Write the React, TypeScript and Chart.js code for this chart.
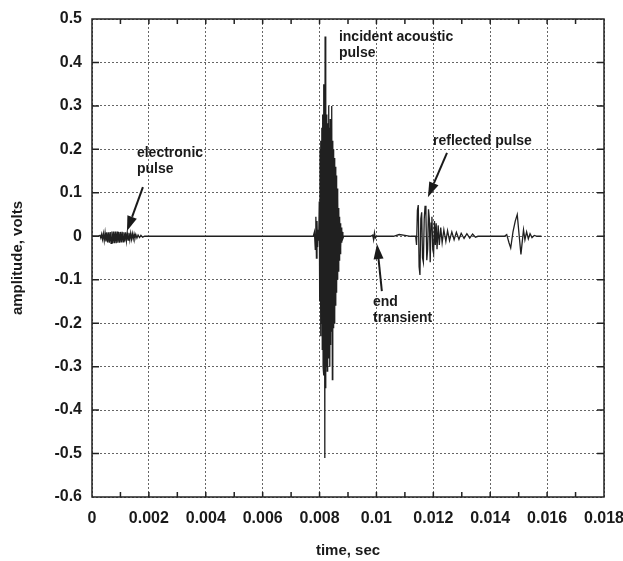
import React, { useEffect, useRef } from 'react';
import { Chart, registerables } from 'chart.js';

Chart.register(...registerables);

// ---- axis settings / tick labels ----
const X_MIN = 0;
const X_MAX = 0.018;
const X_STEP = 0.002;
const Y_MIN = -0.6;
const Y_MAX = 0.5;
const Y_STEP = 0.1;
const xMinorTicks = [0.001, 0.002, 0.003, 0.004, 0.005, 0.006, 0.007, 0.008, 0.009, 0.01, 0.011, 0.012, 0.013, 0.014, 0.015, 0.016, 0.017];
const yMajorTicks = [-0.5, -0.4, -0.3, -0.2, -0.1, 0, 0.1, 0.2, 0.3, 0.4];
const xTitle = 'time, sec';
const yTitle = 'amplitude, volts';

// ---- signal (time in ms, amplitude in volts) ----
const leadIn: [number, number][] = [[0, 0], [0.2, 0]];

const electronicPulse: [number, number][] = [
  [0.28, 0.002], [0.31, -0.004], [0.34, 0.005], [0.37, -0.007], [0.4, 0.006],
  [0.43, -0.01], [0.46, 0.008], [0.49, -0.012], [0.52, 0.009], [0.55, -0.014],
  [0.58, 0.009], [0.61, -0.015], [0.64, 0.01], [0.67, -0.016], [0.7, 0.011],
  [0.73, -0.016], [0.76, 0.011], [0.79, -0.016], [0.82, 0.011], [0.85, -0.016],
  [0.88, 0.011], [0.91, -0.015], [0.94, 0.01], [0.97, -0.015], [1.0, 0.01],
  [1.03, -0.014], [1.06, 0.01], [1.09, -0.013], [1.12, 0.009], [1.15, -0.012],
  [1.18, 0.009], [1.21, -0.011], [1.24, 0.008], [1.27, -0.009], [1.3, 0.008],
  [1.33, -0.008], [1.36, 0.007], [1.39, -0.007], [1.42, 0.006], [1.45, -0.006],
  [1.48, 0.005], [1.51, -0.005], [1.54, 0.004], [1.58, -0.004], [1.62, 0.003],
  [1.67, -0.003], [1.72, 0.002], [1.78, -0.002], [1.85, 0],
];

const incidentPulse: [number, number][] = [
  [7.78, 0], [7.82, 0.01], [7.85, -0.03], [7.87, 0.045], [7.89, -0.05],
  [7.91, 0.035], [7.93, -0.025], [7.95, 0.015], [7.97, -0.01],
  [7.99, 0.08], [8.005, -0.15], [8.02, 0.2], [8.035, -0.23], [8.05, 0.22],
  [8.065, -0.2], [8.08, 0.25], [8.095, -0.26], [8.11, 0.28], [8.125, -0.3],
  [8.14, 0.35], [8.155, -0.32], [8.17, 0.3], [8.185, -0.51], [8.195, 0.46],
  [8.21, -0.35], [8.225, 0.32], [8.24, -0.3], [8.255, 0.28], [8.27, -0.31],
  [8.285, 0.26], [8.3, -0.28], [8.315, 0.3], [8.33, -0.27], [8.345, 0.25],
  [8.36, -0.3], [8.375, 0.27], [8.39, -0.25], [8.405, 0.24], [8.42, -0.22],
  [8.435, 0.3], [8.45, -0.33], [8.465, 0.22], [8.48, -0.21], [8.495, 0.2],
  [8.51, -0.2], [8.525, 0.18], [8.54, -0.18], [8.555, 0.16], [8.57, -0.16],
  [8.585, 0.14], [8.6, -0.13], [8.615, 0.11], [8.63, -0.1], [8.645, 0.09],
  [8.66, -0.08], [8.675, 0.065], [8.69, -0.055], [8.705, 0.045], [8.72, -0.04],
  [8.735, 0.03], [8.75, -0.025], [8.765, 0.02], [8.78, -0.015], [8.8, 0.01],
  [8.82, -0.005], [8.85, 0],
];

const endTransient: [number, number][] = [
  [9.8, 0], [9.87, 0.003], [9.9, -0.008], [9.93, 0.008], [9.96, -0.004], [10.0, 0],
  [10.6, 0], [10.8, 0.004], [11.0, 0.002], [11.2, 0],
];

const reflectedPulse: [number, number][] = [
  [11.38, 0], [11.41, -0.02], [11.44, 0.06], [11.47, 0.072], [11.5, -0.07],
  [11.53, -0.089], [11.56, 0.04], [11.59, 0.055], [11.62, -0.05], [11.65, -0.06],
  [11.68, 0.04], [11.71, 0.07], [11.74, 0.05], [11.77, -0.055], [11.8, -0.03],
  [11.83, 0.062], [11.86, 0.04], [11.89, -0.06], [11.92, 0.03], [11.95, 0.045],
  [11.98, -0.03], [12.01, -0.04], [12.04, 0.035], [12.07, -0.02], [12.1, 0.03],
  [12.13, -0.03], [12.17, 0.025], [12.21, -0.02], [12.26, 0.02], [12.31, -0.015],
  [12.37, 0.015], [12.44, -0.012], [12.5, 0.013], [12.57, -0.01], [12.65, 0.01],
  [12.73, -0.008], [12.81, 0.009], [12.9, -0.007], [12.98, 0.007], [13.08, -0.005],
  [13.18, 0.006], [13.28, -0.004], [13.38, 0.005], [13.48, -0.002], [13.57, 0],
];

const echoPulse: [number, number][] = [
  [14.5, 0], [14.58, 0.004], [14.66, -0.015], [14.72, -0.027], [14.8, 0.01],
  [14.88, 0.035], [14.95, 0.05], [15.02, 0.0], [15.08, -0.042], [15.13, -0.01],
  [15.17, 0.015], [15.22, -0.008], [15.28, 0.01], [15.34, -0.006], [15.4, 0.006],
  [15.47, -0.003], [15.55, 0.002], [15.65, 0], [15.8, 0],
];

// ---- annotations (data coordinates: ms, volts) ----
const labels = [
  { lines: ['electronic', 'pulse'], t: 1.58, v: 0.1825 },
  { lines: ['incident acoustic', 'pulse'], t: 8.68, v: 0.449 },
  { lines: ['reflected pulse'], t: 11.99, v: 0.21 },
  { lines: ['end', 'transient'], t: 9.88, v: -0.16 },
];
const arrows = [
  { from: [1.79, 0.113], to: [1.23, 0.012] },
  { from: [12.48, 0.192], to: [11.81, 0.09] },
  { from: [10.19, -0.126], to: [10.02, -0.018] },
];

const FONT = '"Liberation Sans", Arial, Helvetica, sans-serif';
const INK = '#1a1a1a';

const signal = [...leadIn, ...electronicPulse, ...incidentPulse, ...endTransient, ...reflectedPulse, ...echoPulse]
  .map(([t, v]) => ({ x: t / 1000, y: v }));

const decorPlugin = {
  id: 'decor',
  afterDraw(chart: any) {
    const { ctx, chartArea: a, scales } = chart;
    const xs = scales.x;
    const ys = scales.y;
    ctx.save();
    // frame
    ctx.strokeStyle = '#222';
    ctx.lineWidth = 1.5;
    ctx.setLineDash([]);
    ctx.strokeRect(a.left, a.top, a.right - a.left, a.bottom - a.top);
    // inward tick marks
    ctx.beginPath();
    xMinorTicks.forEach((t) => {
      const px = xs.getPixelForValue(t);
      ctx.moveTo(px, a.bottom); ctx.lineTo(px, a.bottom - 5);
      ctx.moveTo(px, a.top); ctx.lineTo(px, a.top + 5);
    });
    yMajorTicks.forEach((v) => {
      const py = ys.getPixelForValue(v);
      ctx.moveTo(a.left, py); ctx.lineTo(a.left + 7, py);
      ctx.moveTo(a.right, py); ctx.lineTo(a.right - 7, py);
    });
    ctx.stroke();
    // labels
    ctx.fillStyle = INK;
    ctx.font = `bold 14px ${FONT}`;
    ctx.textAlign = 'left';
    ctx.textBaseline = 'alphabetic';
    labels.forEach((l) => {
      const px = xs.getPixelForValue(l.t / 1000);
      const py = ys.getPixelForValue(l.v);
      l.lines.forEach((s, i) => ctx.fillText(s, px, py + i * 16));
    });
    // arrows
    ctx.strokeStyle = INK;
    ctx.lineWidth = 2;
    arrows.forEach((ar) => {
      const x1 = xs.getPixelForValue(ar.from[0] / 1000);
      const y1 = ys.getPixelForValue(ar.from[1]);
      const x2 = xs.getPixelForValue(ar.to[0] / 1000);
      const y2 = ys.getPixelForValue(ar.to[1]);
      const ang = Math.atan2(y2 - y1, x2 - x1);
      const hl = 15, hw = 5;
      const bx = x2 - hl * Math.cos(ang);
      const by = y2 - hl * Math.sin(ang);
      ctx.beginPath();
      ctx.moveTo(x1, y1);
      ctx.lineTo(bx, by);
      ctx.stroke();
      ctx.beginPath();
      ctx.moveTo(x2, y2);
      ctx.lineTo(bx + hw * Math.sin(ang), by - hw * Math.cos(ang));
      ctx.lineTo(bx - hw * Math.sin(ang), by + hw * Math.cos(ang));
      ctx.closePath();
      ctx.fill();
    });
    ctx.restore();
  },
};

export default function App() {
  const ref = useRef<HTMLCanvasElement | null>(null);
  useEffect(() => {
    if (!ref.current) return;
    const chart = new Chart(ref.current, {
      type: 'line',
      data: {
        datasets: [
          {
            data: signal,
            borderColor: '#202020',
            borderWidth: 1.3,
            pointRadius: 0,
            tension: 0,
            fill: false,
          },
        ],
      },
      options: {
        animation: false,
        responsive: true,
        maintainAspectRatio: false,
        layout: { padding: { left: 0, top: 19, right: 19, bottom: 0 } },
        plugins: { legend: { display: false }, tooltip: { enabled: false } },
        scales: {
          x: {
            type: 'linear',
            min: X_MIN,
            max: X_MAX,
            ticks: {
              stepSize: X_STEP,
              color: INK,
              font: { family: FONT, size: 16, weight: 'bold' },
              padding: 12,
              maxRotation: 0,
              autoSkip: false,
              callback: (v: any) => String(parseFloat(Number(v).toFixed(3))),
            },
            grid: { color: '#666', lineWidth: 1, drawTicks: false },
            border: { display: false, dash: [2, 2] },
            title: {
              display: true,
              text: xTitle,
              color: INK,
              font: { family: FONT, size: 15, weight: 'bold' },
              padding: { top: 0, bottom: 1 },
            },
            afterFit: (s: any) => { s.height = 64; s.paddingLeft = 0; s.paddingRight = 0; },
          },
          y: {
            type: 'linear',
            min: Y_MIN,
            max: Y_MAX,
            ticks: {
              stepSize: Y_STEP,
              color: INK,
              font: { family: FONT, size: 16, weight: 'bold' },
              padding: 10,
              autoSkip: false,
              callback: (v: any) => String(parseFloat(Number(v).toFixed(1))),
            },
            grid: { color: '#666', lineWidth: 1, drawTicks: false },
            border: { display: false, dash: [2, 2] },
            title: {
              display: true,
              text: yTitle,
              color: INK,
              font: { family: FONT, size: 15, weight: 'bold' },
              padding: { top: 9, bottom: 0 },
            },
            afterFit: (s: any) => { s.width = 92; s.paddingTop = 0; s.paddingBottom = 0; },
          },
        },
      },
      plugins: [decorPlugin],
    });
    return () => chart.destroy();
  }, []);
  return (
    <div style={{ position: 'absolute', left: 0, top: 0, width: 623, height: 561, background: '#fff' }}>
      <canvas ref={ref} />
    </div>
  );
}
